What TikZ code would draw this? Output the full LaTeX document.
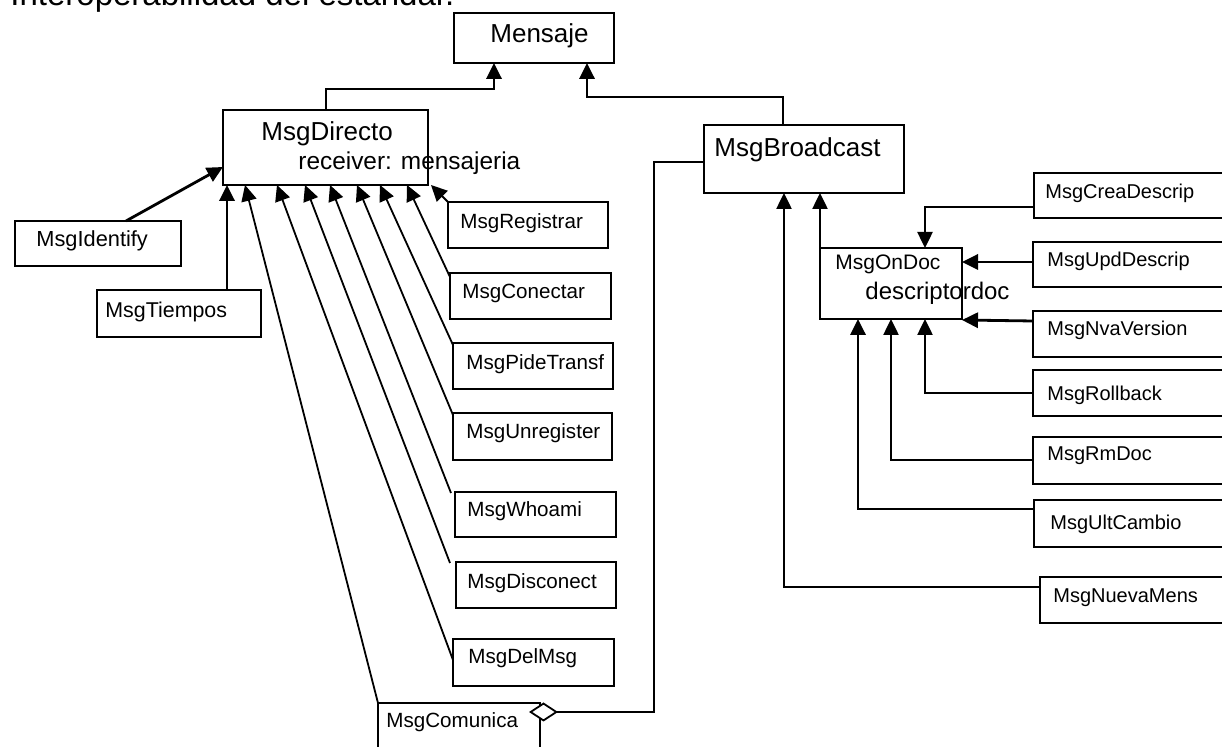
\documentclass[tikz,border=0pt]{standalone}
\usepackage{fontspec}
\setmainfont{Liberation Sans}
\usetikzlibrary{arrows.meta,calc}
\begin{document}
\begin{tikzpicture}[x=0.5pt,y=-0.5pt,
  box/.style={draw,line width=1.2pt,anchor=north west,inner sep=0pt,outer sep=0pt},
  lbl/.style={anchor=west,inner sep=0pt,font=\fontsize{10.3}{12}\selectfont},
  rlbl/.style={anchor=west,inner sep=0pt,font=\fontsize{10}{12}\selectfont},
  big/.style={anchor=west,inner sep=0pt,font=\fontsize{13}{15}\selectfont},
  inh/.style={line width=0.9pt,-{Triangle[length=8pt,width=7.6pt]}},
  thick inh/.style={inh,line width=1.4pt},
  agg/.style={line width=0.9pt,-{Diamond[fill=white,length=14.5pt,width=9.5pt,line width=0.9pt]}}]
\useasboundingbox (0,0) rectangle (1222,747);
\clip (0,0) rectangle (1222,747);

% heading line, only its lower part falls inside the page
\node[anchor=base west,inner sep=0pt,font=\fontsize{16.5}{18}\selectfont] (head) at (10,6) {Interoperabilidad del estándar.};

% class boxes
\node[box,minimum width=80pt,minimum height=25pt] (men) at (454,13) {};
\node[box,minimum width=102.5pt,minimum height=37.5pt] (dir) at (223,110) {};
\node[box,minimum width=100pt,minimum height=34pt] (bro) at (704,125) {};
\node[box,minimum width=83pt,minimum height=22.5pt] (idf) at (15,221) {};
\node[box,minimum width=82pt,minimum height=23.5pt] (tie) at (97,290) {};
\node[box,minimum width=80pt,minimum height=23pt] (reg) at (448,202) {};
\node[box,minimum width=80.5pt,minimum height=23pt] (con) at (450,273) {};
\node[box,minimum width=80pt,minimum height=23pt] (pid) at (453,343) {};
\node[box,minimum width=79.5pt,minimum height=23.5pt] (unr) at (453,413) {};
\node[box,minimum width=80.5pt,minimum height=22.5pt] (who) at (455,492) {};
\node[box,minimum width=80pt,minimum height=23pt] (dis) at (456,562) {};
\node[box,minimum width=80.5pt,minimum height=23.5pt] (del) at (453,639) {};
\node[box,minimum width=81pt,minimum height=35pt] (com) at (378,703) {};
\node[box,minimum width=100pt,minimum height=22.5pt] (cre) at (1034,173) {};
\node[box,minimum width=71pt,minimum height=35.5pt] (ond) at (820,248) {};
\node[box,minimum width=100pt,minimum height=22.5pt] (upd) at (1033,242) {};
\node[box,minimum width=100pt,minimum height=23pt] (nva) at (1033,311) {};
\node[box,minimum width=100pt,minimum height=23pt] (rol) at (1033,370) {};
\node[box,minimum width=100pt,minimum height=23.5pt] (rmd) at (1033,437) {};
\node[box,minimum width=100pt,minimum height=23.5pt] (ult) at (1034,500) {};
\node[box,minimum width=100pt,minimum height=23pt] (nue) at (1040,577) {};

% class names
\node[big] (tmen) at (490,36) {Mensaje};
\node[big] (tdir) at (261,134) {MsgDirecto};
\node[anchor=west,inner sep=0pt,font=\fontsize{12.2}{14}\selectfont] (tdir2) at (298,163) {receiver: mensajeria};
\node[big] (tbro) at (714,150) {MsgBroadcast};
\node[lbl,font=\fontsize{10.9}{12}\selectfont] (tidf) at (36,241) {MsgIdentify};
\node[lbl,font=\fontsize{10.7}{12}\selectfont] (ttie) at (105,312) {MsgTiempos};
\node[lbl] (treg) at (460,223) {MsgRegistrar};
\node[lbl] (tcon) at (462,293) {MsgConectar};
\node[lbl] (tpid) at (466,364) {MsgPideTransf};
\node[lbl] (tunr) at (466,433) {MsgUnregister};
\node[lbl] (twho) at (467,511) {MsgWhoami};
\node[lbl] (tdis) at (467,583) {MsgDisconect};
\node[lbl] (tdel) at (468,658) {MsgDelMsg};
\node[lbl] (tcom) at (386,722) {MsgComunica};
\node[rlbl] (tcre) at (1045,193) {MsgCreaDescrip};
\node[anchor=west,inner sep=0pt,font=\fontsize{10.5}{12}\selectfont] (tond) at (835,264) {MsgOnDoc};
\node[anchor=west,inner sep=0pt,font=\fontsize{12}{14}\selectfont] (tond2) at (865,293) {descriptordoc};
\node[rlbl] (tupd) at (1047,261) {MsgUpdDescrip};
\node[rlbl] (tnva) at (1047,330) {MsgNvaVersion};
\node[rlbl] (trol) at (1047,395) {MsgRollback};
\node[rlbl] (trmd) at (1047,456) {MsgRmDoc};
\node[rlbl] (tult) at (1050,524) {MsgUltCambio};
\node[rlbl] (tnue) at (1053,598) {MsgNuevaMens};

% generalisations towards Mensaje
\draw[thick inh] ($(dir.north west)+(103,0)$) |- ($(men.south west)+(40,26)$) -- ($(men.south west)+(40,0)$);
\draw[thick inh] ($(bro.north west)+(79,0)$) |- ($(men.south west)+(133,34)$) -- ($(men.south west)+(133,0)$);

% generalisations towards MsgDirecto
\draw[thick inh] ($(idf.north west)+(111,0)$) -- ($(dir.north west)+(0,57)$);
\draw[thick inh] ($(tie.north west)+(130,0)$) -- ($(dir.south west)+(4,0)$);
\draw[inh] (com.north west) -- ($(dir.south west)+(22,0)$);
\draw[inh] ($(del.north west)+(0,21)$) -- ($(dir.south west)+(54,0)$);
\draw[inh] ($(dis.north west)+(-6,1)$) -- ($(dir.south west)+(82,0)$);
\draw[inh] ($(who.north west)+(-4,1)$) -- ($(dir.south west)+(107,0)$);
\draw[inh] ($(unr.north west)+(0,2)$) -- ($(dir.south west)+(134,0)$);
\draw[inh] ($(pid.north west)+(0,2)$) -- ($(dir.south west)+(157,0)$);
\draw[inh] ($(con.north west)+(0,4)$) -- ($(dir.south west)+(184,0)$);
\draw[inh] (reg.north west) -- ($(dir.south east)+(3,0)$);

% generalisations towards MsgBroadcast
\draw[inh] (ond.north west) -- (ond.north west |- bro.south);
\draw[inh] ($(nue.north west)+(0,10)$) -| ($(bro.south west)+(80,0)$);

% generalisations towards MsgOnDoc
\draw[inh] ($(cre.north west)+(0,34)$) -| ($(ond.north west)+(105,0)$);
\draw[thick inh] ($(upd.north west)+(0,20)$) -- ($(ond.north east)+(0,14)$);
\draw[thick inh] ($(nva.north west)+(0,10)$) -- ($(ond.south east)+(0,1)$);
\draw[inh] ($(rol.north west)+(0,23)$) -| ($(ond.south west)+(105,0)$);
\draw[inh] ($(rmd.north west)+(0,23)$) -| ($(ond.south west)+(71,0)$);
\draw[thick inh] ($(ult.north west)+(0,9)$) -| ($(ond.south west)+(38,0)$);

% aggregation from MsgBroadcast into MsgComunica
\draw[agg] ($(bro.north west)+(0,37)$) -| ($(com.north east)+(114,9)$) -- ($(com.north east)+(-11,9)$);
\end{tikzpicture}
\end{document}
